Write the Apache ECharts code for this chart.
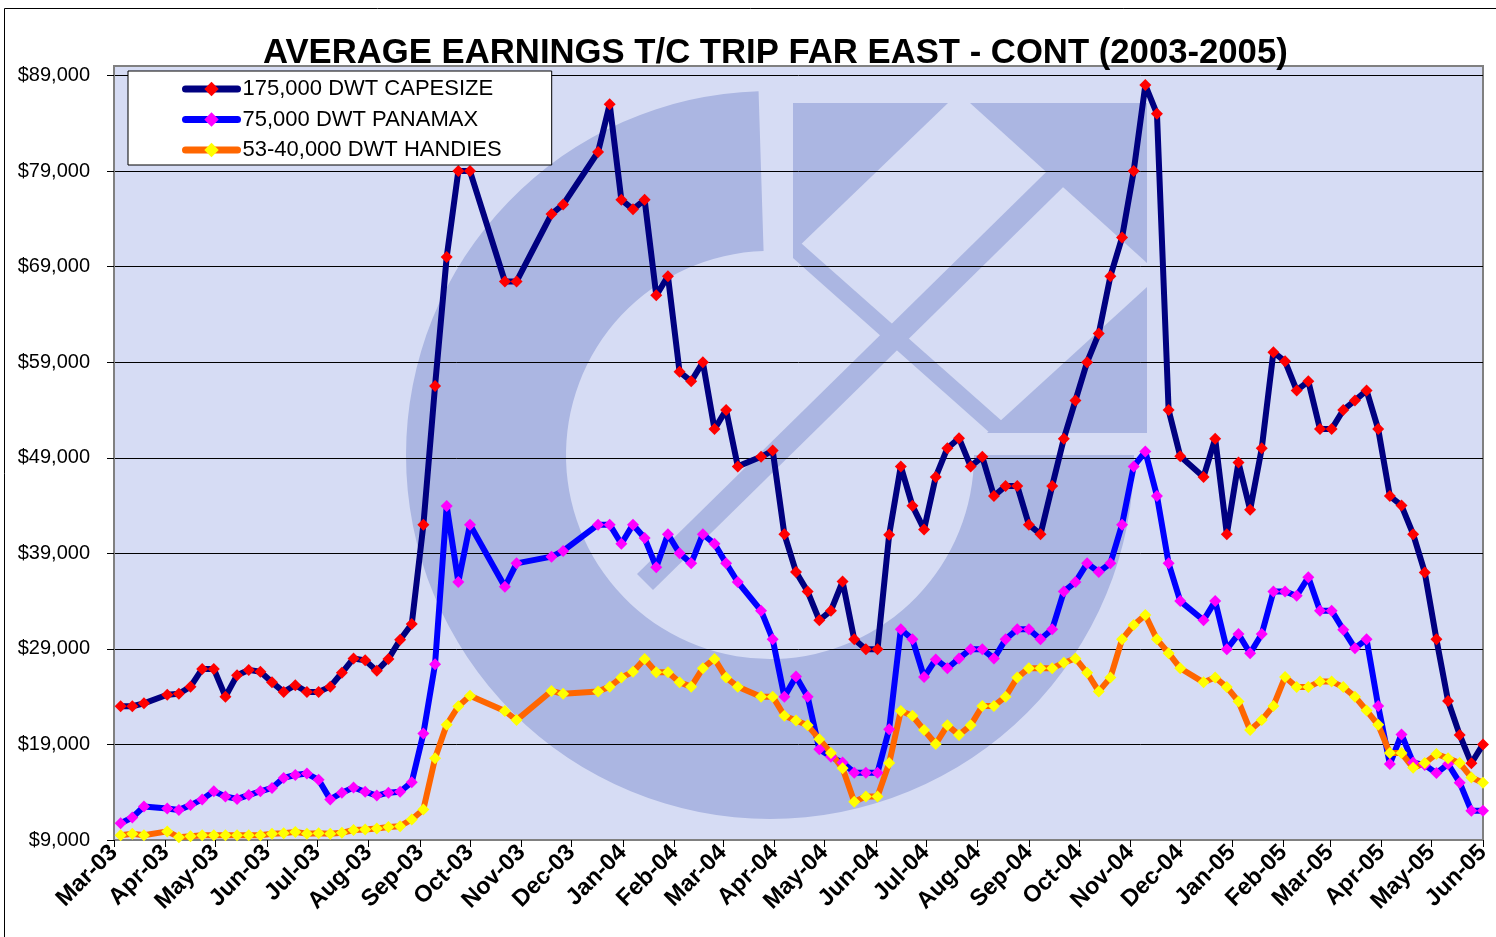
<!DOCTYPE html>
<html>
<head>
<meta charset="UTF-8">
<title>Average Earnings T/C Trip Far East - Cont (2003-2005)</title>
<script src="https://cdn.jsdelivr.net/npm/echarts@6/dist/echarts.min.js"></script>
<style>
  html, body { margin: 0; padding: 0; background: #fff; }
  #main { width: 1496px; height: 937px; }
</style>
</head>
<body>
<div id="main"></div>
<script type="text/javascript">

// weekly fixings (missing weeks are gaps in the source sheet)
var weeks = [
  '2003-03-05','2003-03-12','2003-03-19','2003-04-02','2003-04-09','2003-04-16','2003-04-23','2003-04-30',
  '2003-05-07','2003-05-14','2003-05-21','2003-05-28','2003-06-04','2003-06-11','2003-06-18','2003-06-25',
  '2003-07-02','2003-07-09','2003-07-16','2003-07-23','2003-07-30','2003-08-06','2003-08-13','2003-08-20',
  '2003-08-27','2003-09-03','2003-09-10','2003-09-17','2003-09-24','2003-10-01','2003-10-22','2003-10-29',
  '2003-11-19','2003-11-26','2003-12-17','2003-12-24','2003-12-31','2004-01-07','2004-01-14','2004-01-21',
  '2004-01-28','2004-02-04','2004-02-11','2004-02-18','2004-02-25','2004-03-03','2004-03-10','2004-03-24',
  '2004-03-31','2004-04-07','2004-04-14','2004-04-21','2004-04-28','2004-05-05','2004-05-12','2004-05-19',
  '2004-05-26','2004-06-02','2004-06-09','2004-06-16','2004-06-23','2004-06-30','2004-07-07','2004-07-14',
  '2004-07-21','2004-07-28','2004-08-04','2004-08-11','2004-08-18','2004-08-25','2004-09-01','2004-09-08',
  '2004-09-15','2004-09-22','2004-09-29','2004-10-06','2004-10-13','2004-10-20','2004-10-27','2004-11-03',
  '2004-11-10','2004-11-17','2004-11-24','2004-12-01','2004-12-15','2004-12-22','2004-12-29','2005-01-05',
  '2005-01-12','2005-01-19','2005-01-26','2005-02-02','2005-02-09','2005-02-16','2005-02-23','2005-03-02',
  '2005-03-09','2005-03-16','2005-03-23','2005-03-30','2005-04-06','2005-04-13','2005-04-20','2005-04-27',
  '2005-05-04','2005-05-11','2005-05-18','2005-05-25','2005-06-01'
];

var capesize = [
  23000,23000,23300,24200,24300,25050,26900,26900,
  24000,26250,26800,26600,25500,24500,25200,24500,
  24500,25050,26500,28000,27800,26700,27950,29950,
  31600,42000,56500,70000,79000,79000,67450,67450,
  74500,75500,81000,86000,76000,75000,76000,66000,
  68000,58000,57000,59000,52000,54000,48100,49100,
  49750,41000,37050,35000,32000,33000,36050,30000,
  28970,28970,40950,48100,43970,41500,47000,50000,
  51050,48100,49100,45000,46050,46050,42000,41000,
  46050,51000,55000,59000,62000,68000,72050,79000,
  88000,85000,54000,49150,47000,51000,41000,48500,
  43550,50000,60050,59100,56050,57000,52000,52000,
  54000,55000,56050,52000,45000,44000,41000,37000,
  30000,23550,20000,17030,19000
];

var panamax = [
  10750,11350,12500,12300,12150,12650,13250,14100,
  13550,13300,13700,14100,14450,15500,15800,15950,
  15300,13250,13950,14500,14050,13650,13950,14050,
  15050,20150,27400,43950,36000,42000,35500,37950,
  38650,39250,42000,42000,40000,42000,40600,37550,
  41000,39000,37950,41000,40000,37950,36000,33000,
  30000,24000,26100,24000,18500,17700,17100,16050,
  16050,16050,20600,31050,30000,26050,27900,26980,
  28000,28970,28970,28000,30000,31050,31050,30000,
  31050,35000,36000,37950,37050,37950,42000,48100,
  49650,45000,37950,34000,32000,34000,28970,30550,
  28550,30550,35000,35000,34550,36500,33000,33000,
  31000,29070,30000,23030,16950,20050,17100,16850,
  16000,16950,15000,12050,12050
];

var handies = [
  9500,9650,9500,9900,9300,9400,9500,9500,
  9500,9500,9500,9500,9650,9700,9850,9650,
  9700,9650,9750,10050,10100,10200,10350,10450,
  11150,12200,17550,21050,23000,24100,22500,21550,
  24600,24300,24550,25050,26000,26600,27950,26550,
  26550,25500,25050,26980,27950,26000,25050,24000,
  24000,22000,21500,21000,19550,18100,16500,13000,
  13550,13550,17050,22500,22000,20500,19050,21000,
  20000,21000,23030,23030,24000,26000,26980,26980,
  26980,27550,28000,26500,24550,26000,30000,31500,
  32550,30000,28550,26980,25500,26000,25000,23500,
  20500,21550,23030,26050,25000,25000,25600,25600,
  25000,24000,22550,21050,18100,18100,16550,17050,
  18000,17550,17050,15550,15000
];

var monthLabels = [
  'Mar-03','Apr-03','May-03','Jun-03','Jul-03','Aug-03','Sep-03','Oct-03','Nov-03','Dec-03',
  'Jan-04','Feb-04','Mar-04','Apr-04','May-04','Jun-04','Jul-04','Aug-04','Sep-04','Oct-04',
  'Nov-04','Dec-04','Jan-05','Feb-05','Mar-05','Apr-05','May-05','Jun-05'
];

var yTicks = [9000, 19000, 29000, 39000, 49000, 59000, 69000, 79000, 89000];

var FONT = '"Liberation Sans", Arial, sans-serif';

// first day of each labelled month, as timestamps
var monthTicks = [];
for (var i = 0; i < monthLabels.length; i++) {
    monthTicks.push(new Date(2003, 2 + i, 1).getTime());
}

function toTime(s) {
    var p = s.split('-');
    return new Date(+p[0], +p[1] - 1, +p[2]).getTime();
}

function pairs(vals) {
    var out = [];
    for (var i = 0; i < weeks.length; i++) out.push([toTime(weeks[i]), vals[i]]);
    return out;
}

function dollars(v) {
    return '$' + String(v).replace(/\B(?=(\d{3})+(?!\d))/g, ',');
}

function lineSeries(name, values, lineColor, markColor) {
    return {
        name: name,
        type: 'line',
        data: pairs(values),
        symbol: 'diamond',
        symbolSize: 12,
        showAllSymbol: true,
        lineStyle: { color: lineColor, width: 6 },
        itemStyle: { color: markColor, borderWidth: 0 },
        emphasis: { disabled: true }
    };
}

var logoFill = '#ABB6E2';

var myChart = echarts.init(document.getElementById('main'));

var option = {
    backgroundColor: '#fff',
    animation: false,
    title: {
        text: 'AVERAGE EARNINGS T/C TRIP FAR EAST - CONT (2003-2005)',
        left: 258,
        top: 31,
        textStyle: { fontFamily: FONT, fontSize: 34.7, fontWeight: 'bold', color: '#000' }
    },
    legend: {
        orient: 'vertical',
        left: 128,
        top: 71,
        backgroundColor: '#fff',
        borderColor: '#000',
        borderWidth: 1,
        padding: [6, 50, 3, 54],
        itemWidth: 52,
        itemHeight: 18,
        itemGap: 6.5,
        lineStyle: { width: 7, cap: 'round' },
        textStyle: { fontFamily: FONT, fontSize: 22, color: '#000', lineHeight: 24 }
    },
    grid: {
        left: 114,
        top: 66,
        right: 13,
        bottom: 97,
        show: true,
        backgroundColor: 'transparent',
        borderColor: '#808080',
        borderWidth: 2
    },
    xAxis: {
        type: 'value',
        min: monthTicks[0],
        max: monthTicks[monthTicks.length - 1],
        axisLine: { lineStyle: { color: '#808080', width: 2 } },
        axisTick: { show: true, length: 7, customValues: monthTicks, lineStyle: { color: '#000' } },
        axisLabel: {
            customValues: monthTicks,
            rotate: 45,
            margin: 9,
            fontFamily: FONT,
            fontSize: 23.5,
            fontWeight: 'bold',
            color: '#000',
            formatter: function (v) {
                var d = new Date(v);
                var idx = (d.getFullYear() - 2003) * 12 + d.getMonth() - 2;
                return monthLabels[idx] || '';
            }
        },
        splitLine: { show: false }
    },
    yAxis: {
        type: 'value',
        min: 9000,
        max: 90000,
        interval: 10000,
        axisLine: { show: true, lineStyle: { color: '#808080', width: 2 } },
        axisTick: { show: true, length: 7, customValues: yTicks, lineStyle: { color: '#000' } },
        axisLabel: {
            customValues: yTicks,
            margin: 24,
            fontFamily: FONT,
            fontSize: 20,
            color: '#000',
            formatter: function (v) { return dollars(v); }
        },
        splitLine: { lineStyle: { color: '#000', width: 1 } }
    },
    graphic: [
        // plot background and the faint company logo behind the lines
        { type: 'rect', z: -10, shape: { x: 114, y: 66, width: 1369, height: 774 }, style: { fill: '#D6DCF4' } },
        { type: 'sector', z: -9,
          shape: { cx: 770, cy: 455, r: 364, r0: 204, startAngle: 0, endAngle: Math.PI * 1.49, clockwise: true },
          style: { fill: logoFill } },
        { type: 'polygon', z: -9, shape: { points: [[793, 103], [948, 103], [793, 252]] }, style: { fill: logoFill } },
        { type: 'polygon', z: -9, shape: { points: [[970, 103], [1147, 103], [1147, 263]] }, style: { fill: logoFill } },
        { type: 'polygon', z: -9, shape: { points: [[637, 574], [1092, 127], [1108, 143], [653, 590]] }, style: { fill: logoFill } },
        { type: 'polygon', z: -9, shape: { points: [[793, 236], [1003, 422], [990, 433], [793, 258]] }, style: { fill: logoFill } },
        { type: 'polygon', z: -9, shape: { points: [[987, 433], [1147, 433], [1147, 287]] }, style: { fill: logoFill } },
        // outer chart frame
        { type: 'rect', z: 10, shape: { x: 4.5, y: 8.5, width: 1600, height: 1000 }, style: { fill: 'none', stroke: '#000', lineWidth: 1 } }
    ],
    series: [
        lineSeries('175,000 DWT CAPESIZE', capesize, '#000080', '#FF0000'),
        lineSeries('75,000 DWT PANAMAX', panamax, '#0000FF', '#FF00FF'),
        lineSeries('53-40,000 DWT HANDIES', handies, '#FF6600', '#FFFF00')
    ]
};

myChart.setOption(option);
</script>
</body>
</html>
